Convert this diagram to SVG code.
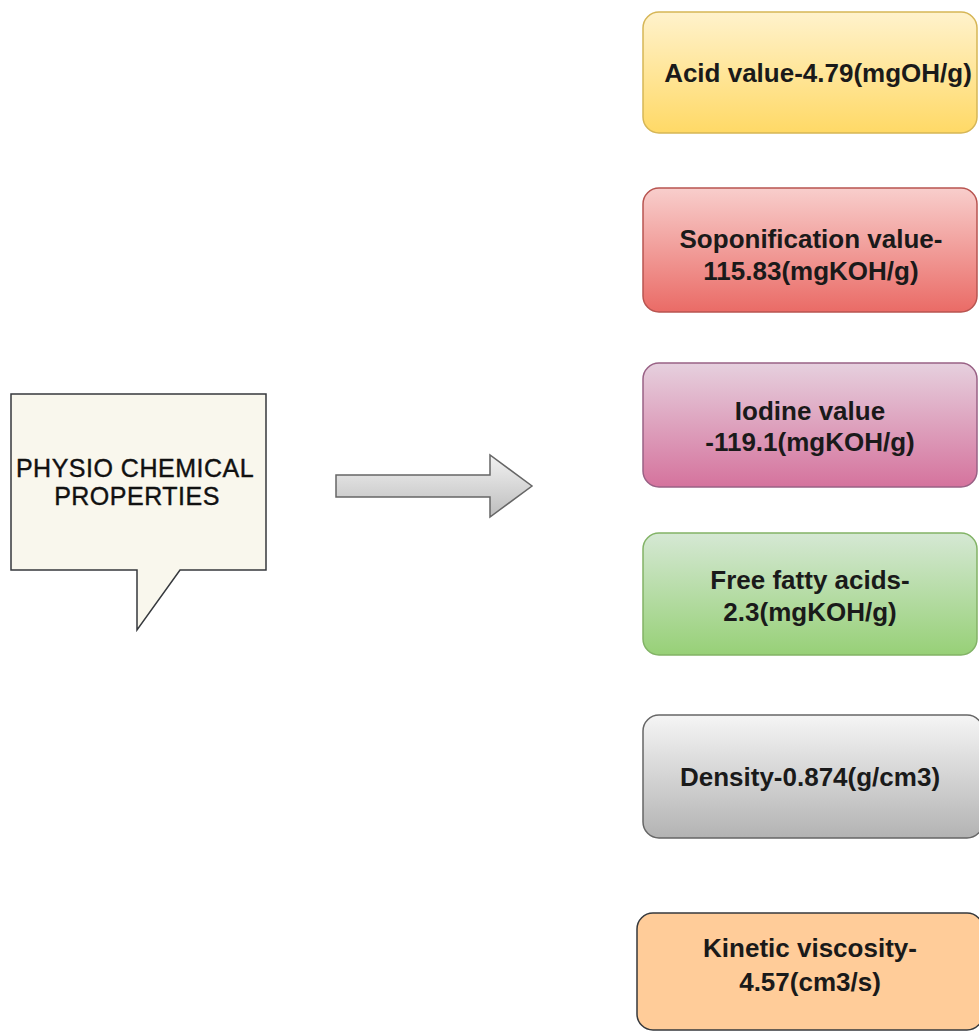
<svg xmlns="http://www.w3.org/2000/svg" width="979" height="1032" viewBox="0 0 979 1032">
<style>
.t{font-family:"Liberation Sans",Arial,sans-serif;font-size:26px;font-weight:bold;fill:#1a1a1a;text-anchor:middle}
.c{font-family:"Liberation Sans",Arial,sans-serif;font-size:25px;fill:#111;stroke:#111;stroke-width:0.4;text-anchor:middle}
.box{stroke-width:1.5}
</style>
<defs>
<linearGradient id="gY" x1="0" y1="0" x2="0" y2="1"><stop offset="0" stop-color="#fff2cc"/><stop offset="1" stop-color="#ffd966"/></linearGradient>
<linearGradient id="gR" x1="0" y1="0" x2="0" y2="1"><stop offset="0" stop-color="#f8cecc"/><stop offset="1" stop-color="#ea6b66"/></linearGradient>
<linearGradient id="gP" x1="0" y1="0" x2="0" y2="1"><stop offset="0" stop-color="#e6d0de"/><stop offset="1" stop-color="#d5739d"/></linearGradient>
<linearGradient id="gG" x1="0" y1="0" x2="0" y2="1"><stop offset="0" stop-color="#d5e8d4"/><stop offset="1" stop-color="#97d077"/></linearGradient>
<linearGradient id="gS" x1="0" y1="0" x2="0" y2="1"><stop offset="0" stop-color="#f5f5f5"/><stop offset="1" stop-color="#b3b3b3"/></linearGradient>
<linearGradient id="gA" x1="0" y1="0" x2="0" y2="1"><stop offset="0" stop-color="#f2f2f2"/><stop offset="1" stop-color="#bdbdbd"/></linearGradient>
</defs>
<rect width="979" height="1032" fill="#ffffff"/>
<g id="callout">
<path d="M11 394 H266 V570 H180 L137 630 L137 570 H11 Z" fill="#f9f7ed" stroke="#36393d" stroke-width="1.5"/>
<text class="c" x="135" y="477" letter-spacing="0.5">PHYSIO CHEMICAL</text>
<text class="c" x="137" y="505" letter-spacing="0.5">PROPERTIES</text>
</g>
<g id="connectors">
<path d="M336 475 H490 V455 L532 486 L490 517 V497 H336 Z" fill="url(#gA)" stroke="#666666" stroke-width="1.5"/>
</g>
<g id="acid">
<rect class="box" x="643" y="12" width="334" height="121" rx="16" fill="url(#gY)" stroke="#d6b656"/>
<text class="t" x="818" y="82">Acid value-4.79(mgOH/g)</text>
</g>
<g id="saponification">
<rect class="box" x="643" y="188" width="334" height="124" rx="16" fill="url(#gR)" stroke="#b85450"/>
<text class="t" x="811" y="248">Soponification value-</text>
<text class="t" x="811" y="280">115.83(mgKOH/g)</text>
</g>
<g id="iodine">
<rect class="box" x="643" y="363" width="334" height="124" rx="16" fill="url(#gP)" stroke="#996185"/>
<text class="t" x="810" y="420">Iodine value</text>
<text class="t" x="810" y="451">-119.1(mgKOH/g)</text>
</g>
<g id="ffa">
<rect class="box" x="643" y="533" width="334" height="122" rx="16" fill="url(#gG)" stroke="#82b366"/>
<text class="t" x="810" y="589">Free fatty acids-</text>
<text class="t" x="810" y="621">2.3(mgKOH/g)</text>
</g>
<g id="density">
<rect class="box" x="643" y="715" width="340" height="123" rx="16" fill="url(#gS)" stroke="#666666"/>
<text class="t" x="810" y="786">Density-0.874(g/cm3)</text>
</g>
<g id="viscosity">
<rect class="box" x="637" y="913" width="346" height="117" rx="16" fill="#ffcc99" stroke="#36393d"/>
<text class="t" x="810" y="957">Kinetic viscosity-</text>
<text class="t" x="810" y="991">4.57(cm3/s)</text>
</g>
</svg>
